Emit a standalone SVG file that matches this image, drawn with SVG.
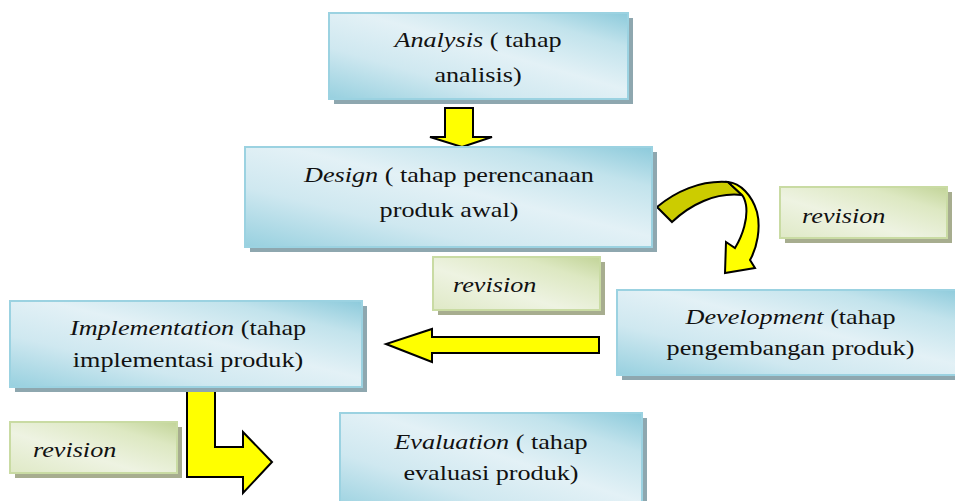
<svg xmlns="http://www.w3.org/2000/svg" width="955" height="501" viewBox="0 0 955 501">
<defs>
<linearGradient id="gBlue" x1="0" y1="1" x2="1" y2="0">
<stop offset="0" stop-color="#97d0df"/>
<stop offset="0.3" stop-color="#cfe8f0"/>
<stop offset="0.55" stop-color="#e3f1f6"/>
<stop offset="0.8" stop-color="#c2e3ec"/>
<stop offset="1" stop-color="#8ccadb"/>
</linearGradient>
<linearGradient id="gGreen" x1="0" y1="1" x2="1" y2="0">
<stop offset="0" stop-color="#dfe9c6"/>
<stop offset="0.4" stop-color="#eef3e2"/>
<stop offset="0.75" stop-color="#dde8c2"/>
<stop offset="1" stop-color="#c2d498"/>
</linearGradient>
</defs>
<style>
.box{fill:url(#gBlue);stroke:#9bd2e1;stroke-width:2}
.sh{fill:#8ea7af}
.gbox{fill:url(#gGreen);stroke:#c9dba3;stroke-width:2}
.gsh{fill:#a7ad8f}
text{font-family:"Liberation Serif",Tinos,"Times New Roman",Times,"DejaVu Serif",serif;font-size:22px;fill:#111}
.c{text-anchor:middle}
.i{font-style:italic}
.arr{fill:#ffff00;stroke:#000000;stroke-width:2;stroke-linejoin:miter}
.dark{fill:#cccc00;stroke:#000000;stroke-width:2}
</style>
<rect width="955" height="501" fill="#fff"/>

<g id="connectors">
<path class="arr" d="M445,108 L473,108 L473,137 L492,137 L462,147 L430,137 L445,137 Z"/>
<path class="dark" d="M657,207 C675,192 700,180 728,182 L742,195 C715,192 690,205 672,222 Z"/>
<path class="arr" d="M728,182 C740,183 752,195 757,212 C761,228 757,248 750,260 L755,268 L725,273 L726,242 L735,248 C743,235 748,218 746,205 C745,200 744,197 742,195 Z"/>
<path class="arr" d="M599,337 L432,337 L432,329 L386,344 L432,362 L432,353 L599,353 Z"/>
<path class="arr" d="M187,388 L215,388 L215,447 L243,447 L243,432 L272,462 L243,493 L243,477 L187,477 Z"/>
</g>

<g id="analysis">
<rect class="sh" x="334" y="18" width="299" height="86"/>
<rect class="box" x="329" y="13" width="299" height="86"/>
<g transform="scale(1.19 1)">
<text class="c" x="401.7" y="47"><tspan class="i">Analysis</tspan> ( tahap</text>
<text class="c" x="401.7" y="82">analisis)</text>
</g>
</g>

<g id="design">
<rect class="sh" x="250" y="152" width="407" height="100"/>
<rect class="box" x="245" y="147" width="407" height="100"/>
<g transform="scale(1.19 1)">
<text class="c" x="377.3" y="182"><tspan class="i">Design</tspan> ( tahap perencanaan</text>
<text class="c" x="377.3" y="217">produk awal)</text>
</g>
</g>

<g id="revision1">
<rect class="gsh" x="785" y="192" width="167" height="51"/>
<rect class="gbox" x="780" y="187" width="167" height="51"/>
<g transform="scale(1.19 1)">
<text class="i" x="674" y="223">revision</text>
</g>
</g>

<g id="revision2">
<rect class="gsh" x="438" y="262" width="167" height="53"/>
<rect class="gbox" x="433" y="257" width="167" height="53"/>
<g transform="scale(1.19 1)">
<text class="i" x="380.7" y="292">revision</text>
</g>
</g>

<g id="development">
<rect class="sh" x="622" y="295" width="348" height="85"/>
<rect class="box" x="617" y="290" width="348" height="85"/>
<g transform="scale(1.19 1)">
<text class="c" x="664.3" y="324"><tspan class="i">Development</tspan> (tahap</text>
<text class="c" x="664.3" y="355">pengembangan produk)</text>
</g>
</g>

<g id="implementation">
<rect class="sh" x="15" y="306" width="352" height="86"/>
<rect class="box" x="10" y="301" width="352" height="86"/>
<g transform="scale(1.19 1)">
<text class="c" x="158" y="335"><tspan class="i">Implementation</tspan> (tahap</text>
<text class="c" x="158" y="367">implementasi produk)</text>
</g>
</g>

<g id="revision3">
<rect class="gsh" x="15" y="427" width="167" height="51"/>
<rect class="gbox" x="10" y="422" width="167" height="51"/>
<g transform="scale(1.19 1)">
<text class="i" x="27.7" y="457">revision</text>
</g>
</g>

<g id="evaluation">
<rect class="sh" x="345" y="418" width="302" height="100"/>
<rect class="box" x="340" y="413" width="302" height="100"/>
<g transform="scale(1.19 1)">
<text class="c" x="412.6" y="449"><tspan class="i">Evaluation</tspan> ( tahap</text>
<text class="c" x="412.6" y="480">evaluasi produk)</text>
</g>
</g>
</svg>
